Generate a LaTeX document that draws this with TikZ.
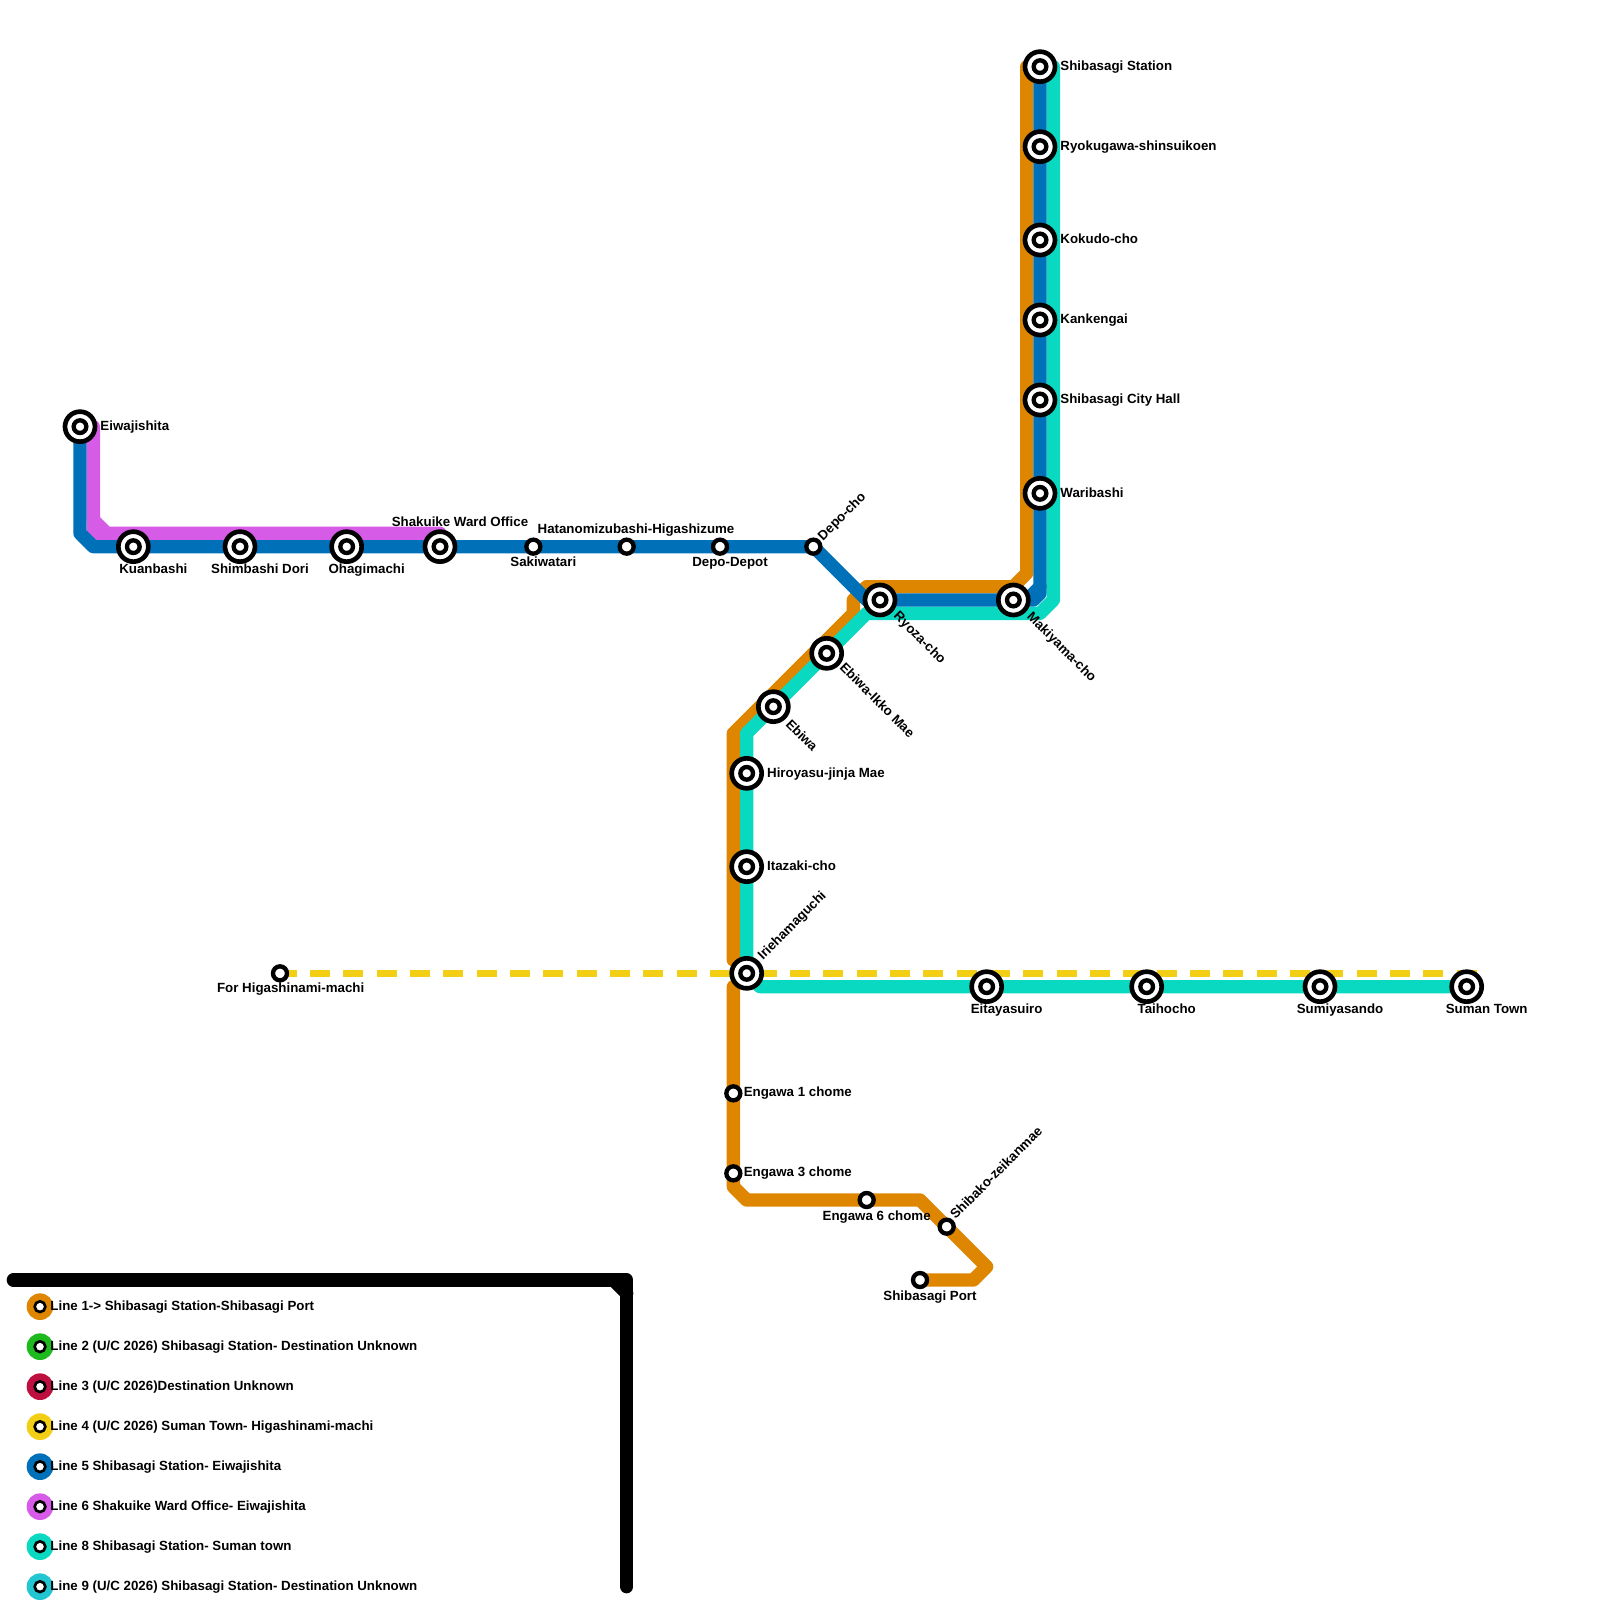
\documentclass[tikz,border=0pt]{standalone}
\usepackage{fontspec}
\setmainfont{Liberation Sans}
\usepackage{xcolor}
\usetikzlibrary{backgrounds}
\definecolor{linecolorA}{HTML}{DF8600}
\definecolor{linecolorB}{HTML}{1EB91E}
\definecolor{linecolorC}{HTML}{BE1040}
\definecolor{linecolorD}{HTML}{F2CF15}
\definecolor{linecolorE}{HTML}{0071B8}
\definecolor{linecolorF}{HTML}{D65BE6}
\definecolor{linecolorH}{HTML}{0AD9C2}
\definecolor{linecolorI}{HTML}{22C6D2}

\begin{document}
\begin{tikzpicture}[
    x=0.2cm, y=-0.2cm,
    every node/.style={font=\fontsize{5.68pt}{6pt}\selectfont\bfseries, inner sep=0pt},
    metro/.style={line width=0.2cm, line cap=round, line join=round},
    bigstn/.style={circle, draw=black, fill=white, line width=0.07cm, minimum size=0.45cm,
        path picture={\draw[black, line width=0.065cm] (path picture bounding box.center) circle (0.095cm);}},
    smallstn/.style={circle, draw=black, fill=white, line width=0.065cm, minimum size=0.21cm},
    keyicon/.style={circle, fill=#1, minimum size=0.4cm,
        path picture={\draw[black, fill=white, line width=0.04cm] (path picture bounding box.center) circle (0.08cm);}},
    rlabel/.style={anchor=base west},
    clabel/.style={anchor=base},
    uplabel/.style={anchor=base west, rotate=45},
    downlabel/.style={anchor=base west, rotate=-45}
]
\useasboundingbox (0,0) rectangle (120,120);

% Free ends
\coordinate (orangetop) at (77,5);
\coordinate (orangegapa) at (55,72);
\coordinate (orangegapb) at (55,74);
\coordinate (tealtop) at (79,5);
\coordinate (purpletop) at (7,32);
\coordinate (purpleend) at (33,40);
\coordinate (yellowend) at (110.75,73);
\coordinate (framestart) at (1,96);
\coordinate (frameend) at (47,119);

% Stations
\node[bigstn] (shibasagi) at (78,5) {};
\node[bigstn] (ryokugawa) at (78,11) {};
\node[bigstn] (kokudo) at (78,18) {};
\node[bigstn] (kankengai) at (78,24) {};
\node[bigstn] (cityhall) at (78,30) {};
\node[bigstn] (waribashi) at (78,37) {};
\node[bigstn] (makiyama) at (76,45) {};
\node[bigstn] (ryoza) at (66,45) {};
\node[bigstn] (ebiwaikko) at (62,49) {};
\node[bigstn] (ebiwa) at (58,53) {};
\node[bigstn] (hiroyasu) at (56,58) {};
\node[bigstn] (itazaki) at (56,65) {};
\node[bigstn] (irie) at (56,73) {};
\node[bigstn] (eitaya) at (74,74) {};
\node[bigstn] (taihocho) at (86,74) {};
\node[bigstn] (sumiya) at (99,74) {};
\node[bigstn] (suman) at (110,74) {};
\node[bigstn] (eiwa) at (6,32) {};
\node[bigstn] (kuanbashi) at (10,41) {};
\node[bigstn] (shimbashi) at (18,41) {};
\node[bigstn] (ohagi) at (26,41) {};
\node[bigstn] (shakuike) at (33,41) {};
\node[smallstn] (sakiwatari) at (40,41) {};
\node[smallstn] (hatano) at (47,41) {};
\node[smallstn] (depot) at (54,41) {};
\node[smallstn] (depocho) at (61,41) {};
\node[smallstn] (higashi) at (21,73) {};
\node[smallstn] (engawaa) at (55,82) {};
\node[smallstn] (engawab) at (55,88) {};
\node[smallstn] (engawac) at (65,90) {};
\node[smallstn] (shibako) at (71,92) {};
\node[smallstn] (port) at (69,96) {};

% Lines
\begin{scope}[on background layer]
\draw[metro, linecolorF] (purpletop) -- (7,39) -- (8,40) -- (purpleend);
\draw[metro, linecolorF] (7,39) -- (7,40) -- (8,40);
\draw[metro, linecolorA] (orangetop) -- (77,43) -- (76,44) -- (65,44) -- (64,45) -- (64,46) -- (55,55) -- (orangegapa);
\draw[metro, linecolorA] (orangegapb) -- (engawaa.center) -- (engawab.center) -- (55,89) -- (56,90) -- (engawac.center) -- (69,90) -- (shibako.center) -- (74,95) -- (73,96) -- (port.center);
\draw[metro, linecolorH] (tealtop) -- (79,45) -- (78,46) -- (65,46) -- (ebiwaikko.center) -- (ebiwa.center) -- (56,55) -- (hiroyasu.center) -- (itazaki.center) -- (irie.center) -- (57,74) -- (eitaya.center) -- (taihocho.center) -- (sumiya.center) -- (suman.center);
\draw[metro, linecolorE] (eiwa.center) -- (6,40) -- (7,41) -- (kuanbashi.center) -- (shimbashi.center) -- (ohagi.center) -- (shakuike.center) -- (sakiwatari.center) -- (hatano.center) -- (depot.center) -- (depocho.center) -- (65,45) -- (ryoza.center) -- (makiyama.center) -- (77.5,45) -- (78,44.5) -- (waribashi.center) -- (cityhall.center) -- (kankengai.center) -- (kokudo.center) -- (ryokugawa.center) -- (shibasagi.center);
\draw[metro, linecolorE] (78,44) -- (77,45);
\draw[line width=0.1cm, linecolorD, dash pattern=on 0.3cm off 0.2cm, dash phase=0.05cm] (higashi.center) -- (irie.center);
\draw[line width=0.1cm, linecolorD, dash pattern=on 0.3cm off 0.2cm, dash phase=0.35cm] (irie.center) -- (yellowend);
\end{scope}

% Station names
\node[rlabel] (shibasagilab) at (79.5,5.3) {Shibasagi Station};
\node[rlabel] (ryokugawalab) at (79.5,11.3) {Ryokugawa-shinsuikoen};
\node[rlabel] (kokudolab) at (79.5,18.3) {Kokudo-cho};
\node[rlabel] (kankengailab) at (79.5,24.3) {Kankengai};
\node[rlabel] (cityhalllab) at (79.5,30.3) {Shibasagi City Hall};
\node[rlabel] (waribashilab) at (79.5,37.3) {Waribashi};
\node[rlabel] (eiwalab) at (7.5,32.3) {Eiwajishita};
\node[clabel] (kuanbashilab) at (11.5,43) {Kuanbashi};
\node[clabel] (shimbashilab) at (19.5,43) {Shimbashi Dori};
\node[clabel] (ohagilab) at (27.5,43) {Ohagimachi};
\node[clabel] (shakuikelab) at (34.5,39.45) {Shakuike Ward Office};
\node[clabel] (sakiwatarilab) at (40.75,42.5) {Sakiwatari};
\node[clabel] (hatanolab) at (47.7,40) {Hatanomizubashi-Higashizume};
\node[clabel] (depotlab) at (54.75,42.5) {Depo-Depot};
\node[uplabel] (depocholab) at (61.7,40.6) {Depo-cho};
\node[downlabel] (ryozalab) at (66.95,46.25) {Ryoza-cho};
\node[downlabel] (makiyamalab) at (76.95,46.3) {Makiyama-cho};
\node[downlabel] (ebiwaikkolab) at (62.9,50.1) {Ebiwa-Ikko Mae};
\node[downlabel] (ebiwalab) at (58.85,54.35) {Ebiwa};
\node[rlabel] (hiroyasulab) at (57.5,58.3) {Hiroyasu-jinja Mae};
\node[rlabel] (itazakilab) at (57.5,65.3) {Itazaki-cho};
\node[uplabel] (irielab) at (57.2,72.05) {Iriehamaguchi};
\node[clabel] (eitayalab) at (75.5,76) {Eitayasuiro};
\node[clabel] (taihocholab) at (87.5,76) {Taihocho};
\node[clabel] (sumiyalab) at (100.5,76) {Sumiyasando};
\node[clabel] (sumanlab) at (111.5,76) {Suman Town};
\node[clabel] (higashilab) at (21.8,74.45) {For Higashinami-machi};
\node[rlabel] (engawaalab) at (55.75,82.25) {Engawa 1 chome};
\node[rlabel] (engawablab) at (55.75,88.25) {Engawa 3 chome};
\node[clabel] (engawaclab) at (65.75,91.5) {Engawa 6 chome};
\node[uplabel] (shibakolab) at (71.65,91.5) {Shibako-zeikanmae};
\node[clabel] (portlab) at (69.75,97.5) {Shibasagi Port};

% Key
\draw[metro, black] (framestart) -- (47,96) -- (frameend);
\draw[metro, black] (46,96) -- (47,97);
\foreach \y/\col/\txt in {
    98/linecolorA/{Line 1-> Shibasagi Station-Shibasagi Port},
    101/linecolorB/{Line 2 (U/C 2026) Shibasagi Station- Destination Unknown},
    104/linecolorC/{Line 3 (U/C 2026)Destination Unknown},
    107/linecolorD/{Line 4 (U/C 2026) Suman Town- Higashinami-machi},
    110/linecolorE/{Line 5 Shibasagi Station- Eiwajishita},
    113/linecolorF/{Line 6 Shakuike Ward Office- Eiwajishita},
    116/linecolorH/{Line 8 Shibasagi Station- Suman town},
    119/linecolorI/{Line 9 (U/C 2026) Shibasagi Station- Destination Unknown}}{
    \node[keyicon=\col] (icon\y) at (3,\y) {};
    \node[rlabel] (keytext\y) at (3.75,\y+0.25) {\txt};
}
\end{tikzpicture}
\end{document}
